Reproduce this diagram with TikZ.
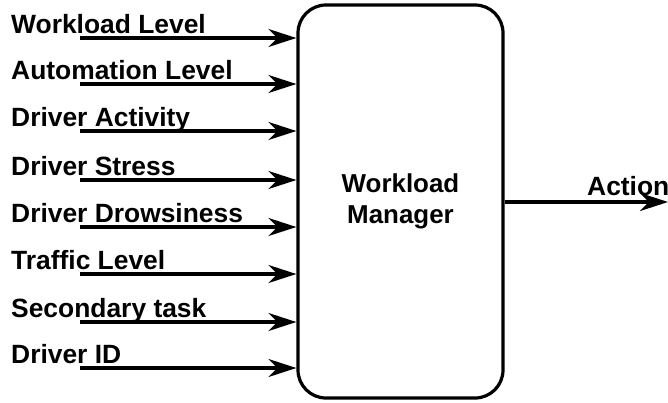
\documentclass[tikz,border=0pt]{standalone}
\usepackage{fontspec}
\setmainfont{Liberation Sans}
\usetikzlibrary{arrows.meta}
\begin{document}
\begin{tikzpicture}[x=1bp,y=-1bp,
  inarrow/.style={line width=3.2bp,-{Stealth[length=28bp,width=18bp,inset=9bp]}},
  lbl/.style={anchor=base west,inner sep=0pt,font=\fontsize{26.5}{30}\selectfont\bfseries}]
\useasboundingbox (0,0) rectangle (668,402);
% central block
\node[draw,line width=3.2bp,rounded corners=28bp,minimum width=205bp,minimum height=393bp,
      align=center,font=\fontsize{26}{31}\selectfont\bfseries] (wm) at (400.5,201.5)
      {Workload\\Manager};
% inputs
\foreach \name/\txt/\y in {a/Workload Level/38,b/Automation Level/84,c/Driver Activity/131,
   d/Driver Stress/180,e/Driver Drowsiness/227,f/Traffic Level/274,
   g/Secondary task/322,h/Driver ID/368}{
  \node[lbl] (t\name) at (11,\y-5) {\txt};
  \coordinate (s\name) at (80,\y);
  \draw[inarrow] (s\name) -- (s\name -| wm.west);
}
% output
\coordinate (out) at (668,202);
\draw[inarrow] (wm.east |- out) -- (out);
\node[lbl] (act) at (587,195) {Action};
\end{tikzpicture}
\end{document}
